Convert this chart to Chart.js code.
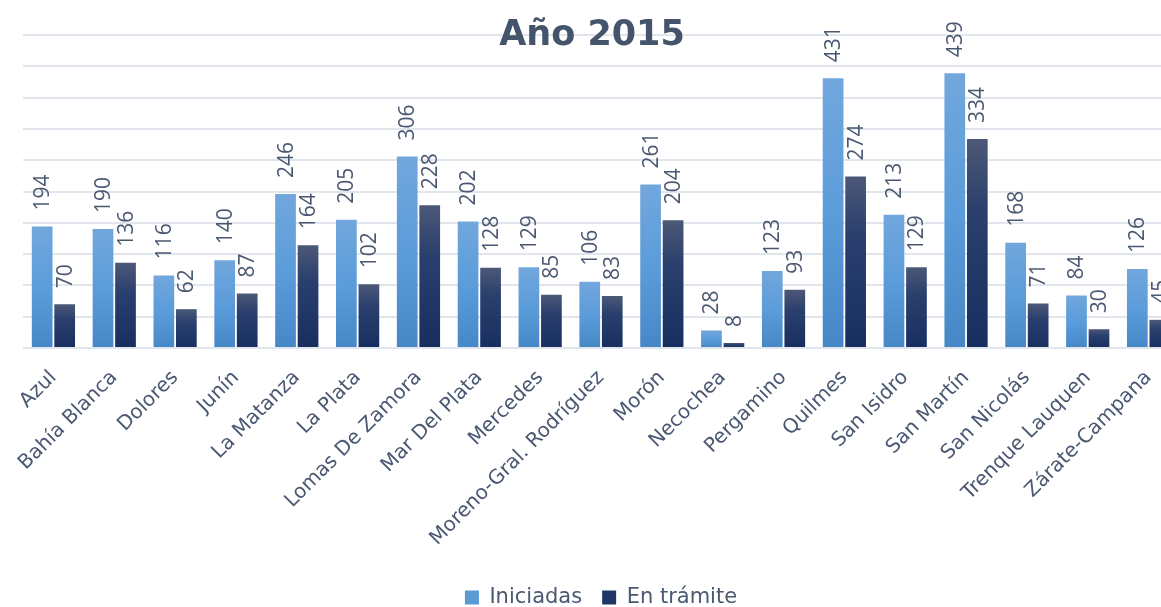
<!DOCTYPE html>
<html lang="es">
<head>
<meta charset="utf-8">
<title>Año 2015</title>
<script src="https://cdn.jsdelivr.net/npm/chart.js@4.4.1/dist/chart.umd.min.js"></script>
<style>
  html, body { margin: 0; padding: 0; background: #fff; overflow: hidden; }
  #wrap { position: relative; width: 1184px; height: 607px; }
</style>
</head>
<body>
<div id="wrap"><canvas id="chart"></canvas></div>
<script>
// Causas por departamento judicial, año 2015
const categories = [
  "Azul", "Bahía Blanca", "Dolores", "Junín", "La Matanza", "La Plata",
  "Lomas De Zamora", "Mar Del Plata", "Mercedes", "Moreno-Gral. Rodríguez",
  "Morón", "Necochea", "Pergamino", "Quilmes", "San Isidro", "San Martín",
  "San Nicolás", "Trenque Lauquen", "Zárate-Campana",
];
const iniciadas = [194, 190, 116, 140, 246, 205, 306, 202, 129, 106, 261, 28, 123, 431, 213, 439, 168, 84, 126];
const enTramite = [70, 136, 62, 87, 164, 102, 228, 128, 85, 83, 204, 8, 93, 274, 129, 334, 71, 30, 45];
const yTicks = { min: 0, max: 500, step: 50 };

const TEXT = "#4a5872";
const FONT = "'DejaVu Sans', sans-serif";
const NUM_FONT = "'Open Sans', sans-serif";

// gradient per bar, from its top down to the baseline
function barGradient(stops) {
  return (c) => {
    const { chart, raw } = c;
    const y = chart.scales && chart.scales.y;
    if (!chart.chartArea || !y || raw == null) return stops[stops.length - 1][1];
    const top = y.getPixelForValue(raw), base = y.getPixelForValue(0);
    const g = chart.ctx.createLinearGradient(0, top, 0, base);
    stops.forEach(([o, col]) => g.addColorStop(o, col));
    return g;
  };
}

// vertical value labels above each bar
const valueLabels = {
  id: "valueLabels",
  afterDatasetsDraw(chart) {
    const ctx = chart.ctx;
    ctx.save();
    ctx.fillStyle = TEXT;
    ctx.font = `21px ${NUM_FONT}`;
    ctx.textAlign = "left";
    ctx.textBaseline = "middle";
    chart.data.datasets.forEach((ds, i) => {
      chart.getDatasetMeta(i).data.forEach((el, j) => {
        ctx.save();
        ctx.translate(el.x + 1, el.y - 16);
        ctx.rotate(-Math.PI / 2);
        ctx.fillText(String(ds.data[j]), 0, 0);
        ctx.restore();
      });
    });
    ctx.restore();
  },
};

// title sits over the plot, like the original
const overTitle = {
  id: "overTitle",
  afterDraw(chart) {
    const ctx = chart.ctx;
    ctx.save();
    ctx.fillStyle = "#44546a";
    ctx.font = `bold 35px ${FONT}`;
    ctx.textAlign = "center";
    ctx.textBaseline = "middle";
    ctx.fillText("Año 2015", chart.width / 2, 36);
    ctx.restore();
  },
};

new Chart(document.getElementById("chart"), {
  type: "bar",
  data: {
    labels: categories,
    datasets: [
      {
        label: "Iniciadas",
        data: iniciadas,
        backgroundColor: barGradient([[0, "#72a7dd"], [0.5, "#5b9cda"], [1, "#4688c7"]]),
      },
      {
        label: "En trámite",
        data: enTramite,
        backgroundColor: barGradient([[0, "#4c5877"], [0.35, "#2a3f6d"], [1, "#172f60"]]),
      },
    ],
  },
  options: {
    responsive: true,
    maintainAspectRatio: false,
    animation: false,
    datasets: { bar: { categoryPercentage: 0.74, barPercentage: 0.92 } },
    layout: { padding: { top: 35, left: 23, right: 5, bottom: -11 } },
    scales: {
      x: {
        grid: { display: false },
        border: { display: false },
        ticks: {
          autoSkip: false, minRotation: 45, maxRotation: 45, padding: 10,
          color: TEXT, font: { family: FONT, size: 20 },
        },
        afterFit: (s) => { s.height = 219; },
      },
      y: {
        min: yTicks.min, max: yTicks.max,
        border: { display: false },
        grid: { color: "#e1e5ec", lineWidth: 2, drawTicks: false },
        ticks: { display: false, stepSize: yTicks.step },
      },
    },
    plugins: {
      title: { display: false },
      tooltip: { enabled: false },
      legend: {
        position: "bottom",
        labels: {
          color: TEXT, font: { family: FONT, size: 21 },
          boxWidth: 14, boxHeight: 14, padding: 20,
          generateLabels: (chart) => [
            { text: "Iniciadas", fillStyle: "#5b9bd5", strokeStyle: "#5b9bd5", lineWidth: 0, fontColor: TEXT, datasetIndex: 0 },
            { text: "En trámite", fillStyle: "#1f3667", strokeStyle: "#1f3667", lineWidth: 0, fontColor: TEXT, datasetIndex: 1 },
          ],
        },
      },
    },
  },
  plugins: [valueLabels, overTitle],
});
</script>
</body>
</html>
